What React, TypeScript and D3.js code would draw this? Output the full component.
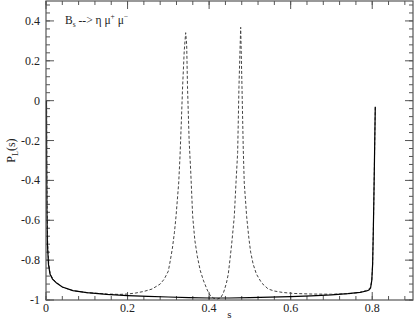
import React from "react";
import * as d3 from "d3";

const xTicks = [0, 0.2, 0.4, 0.6, 0.8];
const xTickLabels = ["0", "0.2", "0.4", "0.6", "0.8"];
const yTicks = [-1, -0.8, -0.6, -0.4, -0.2, 0, 0.2, 0.4];
const yTickLabels = ["-1", "-0.8", "-0.6", "-0.4", "-0.2", "0", "0.2", "0.4"];

// solid curve (s, P_L)
const solidS = [0.001, 0.0015, 0.0022, 0.0035, 0.006, 0.0098, 0.016, 0.026, 0.04, 0.066, 0.1, 0.149, 0.2, 0.25, 0.3, 0.35, 0.4, 0.45, 0.5, 0.55, 0.6, 0.65, 0.7, 0.74, 0.77, 0.786, 0.792, 0.796, 0.799, 0.801, 0.8026, 0.804, 0.8055, 0.8075];
const solidP = [0.0, -0.3, -0.55, -0.72, -0.82, -0.87, -0.895, -0.915, -0.935, -0.953, -0.963, -0.972, -0.978, -0.982, -0.985, -0.988, -0.99, -0.99, -0.988, -0.986, -0.983, -0.979, -0.974, -0.968, -0.962, -0.955, -0.95, -0.94, -0.9, -0.82, -0.66, -0.5, -0.3, -0.03];

// dashed curve (s, P_L)
const dashS = [0.0015, 0.002, 0.0028, 0.0042, 0.0068, 0.0105, 0.017, 0.027, 0.04, 0.066, 0.1, 0.15, 0.18, 0.2, 0.22, 0.24, 0.26, 0.28, 0.29, 0.3, 0.305, 0.31, 0.315, 0.3188, 0.3254, 0.3286, 0.332, 0.335, 0.339, 0.3425, 0.345, 0.347, 0.351, 0.3548, 0.3597, 0.365, 0.371, 0.378, 0.3857, 0.3955, 0.402, 0.41, 0.42, 0.428, 0.4308, 0.435, 0.4389, 0.443, 0.447, 0.451, 0.4553, 0.4617, 0.4659, 0.47, 0.4732, 0.4774, 0.4806, 0.4838, 0.4862, 0.4921, 0.4975, 0.5019, 0.508, 0.516, 0.529, 0.545, 0.56, 0.58, 0.606, 0.65, 0.7, 0.745, 0.77, 0.786, 0.792, 0.796, 0.799, 0.801, 0.8026, 0.804, 0.8055, 0.8075];
const dashP = [0.0, -0.3, -0.55, -0.72, -0.82, -0.87, -0.895, -0.915, -0.935, -0.953, -0.963, -0.97, -0.972, -0.97, -0.965, -0.957, -0.945, -0.92, -0.895, -0.855, -0.8, -0.74, -0.66, -0.582, -0.413, -0.281, -0.1, 0.07, 0.25, 0.341, 0.28, 0.07, -0.2, -0.35, -0.58, -0.7, -0.78, -0.85, -0.9, -0.95, -0.975, -0.99, -0.995, -0.99, -0.98, -0.965, -0.94, -0.91, -0.87, -0.8, -0.72, -0.582, -0.413, -0.26, 0.07, 0.368, 0.07, -0.248, -0.413, -0.582, -0.69, -0.76, -0.82, -0.87, -0.915, -0.945, -0.955, -0.962, -0.967, -0.97, -0.971, -0.968, -0.962, -0.952, -0.945, -0.935, -0.9, -0.82, -0.66, -0.5, -0.3, -0.03];

const W = 415;
const H = 319;
const L = 46, R = 413, T = 1, B = 300;

export default function App() {
  const x = d3.scaleLinear().domain([0, 0.9]).range([L, R]);
  const y = d3.scaleLinear().domain([-1, 0.5]).range([B, T]);
  const line = d3.line<[number, number]>().x((d) => x(d[0])).y((d) => y(d[1]));
  const solid = solidS.map((s, i) => [s, solidP[i]] as [number, number]);
  const dashed = dashS.map((s, i) => [s, dashP[i]] as [number, number]);

  const xMinor = d3.range(0, 0.9001, 0.04).filter((v) => v <= 0.9);
  const yMinor = d3.range(-1, 0.5001, 0.04).filter((v) => v <= 0.5);
  const font = "Liberation Serif, Times New Roman, serif";
  const axisColor = "#555";

  return (
    <svg width={W} height={H} style={{ position: "absolute", left: 0, top: 0, background: "#fff" }}>
      <g stroke={axisColor} strokeWidth={1}>
        {xMinor.map((v, i) => (
          <g key={"xm" + i}>
            <line x1={x(v)} x2={x(v)} y1={B} y2={B - 4} />
            <line x1={x(v)} x2={x(v)} y1={T} y2={T + 4} />
          </g>
        ))}
        {xTicks.map((v, i) => (
          <g key={"xM" + i}>
            <line x1={x(v)} x2={x(v)} y1={B} y2={B - 8} />
            <line x1={x(v)} x2={x(v)} y1={T} y2={T + 8} />
          </g>
        ))}
        {yMinor.map((v, i) => (
          <g key={"ym" + i}>
            <line x1={L} x2={L + 4} y1={y(v)} y2={y(v)} />
            <line x1={R} x2={R - 4} y1={y(v)} y2={y(v)} />
          </g>
        ))}
        {yTicks.map((v, i) => (
          <g key={"yM" + i}>
            <line x1={L} x2={L + 8} y1={y(v)} y2={y(v)} />
            <line x1={R} x2={R - 8} y1={y(v)} y2={y(v)} />
          </g>
        ))}
      </g>
      <path d={line(dashed) || ""} fill="none" stroke="#444" strokeWidth={1} strokeDasharray="3,2" />
      <path d={line(solid) || ""} fill="none" stroke="#000" strokeWidth={1.2} />
      <rect x={L} y={T} width={R - L} height={B - T} fill="none" stroke={axisColor} strokeWidth={1.2} />
      <g style={{ fontFamily: font }} fontSize={12} fill="#222">
        {xTicks.map((v, i) => (
          <text key={"xl" + i} x={x(v)} y={312} textAnchor="middle">{xTickLabels[i]}</text>
        ))}
        {yTicks.map((v, i) => (
          <text key={"yl" + i} x={40} y={y(v) + 4} textAnchor="end">{yTickLabels[i]}</text>
        ))}
        <text x={(L + R) / 2} y={318} textAnchor="middle" fontSize={11}>s</text>
        <text transform={`translate(15, ${(T + B) / 2}) rotate(-90)`} textAnchor="middle" fontSize={12}>
          P<tspan fontSize={8} dy={3}>L</tspan><tspan dy={-3}>(s)</tspan>
        </text>
        <text x={65} y={24} fontSize={11.5}>
          B<tspan fontSize={7.5} dy={3}>s</tspan><tspan dy={-3}> --&gt; η μ</tspan><tspan fontSize={7.5} dy={-5}>+</tspan><tspan dy={5}> μ</tspan><tspan fontSize={7.5} dy={-5}>−</tspan>
        </text>
      </g>
    </svg>
  );
}
